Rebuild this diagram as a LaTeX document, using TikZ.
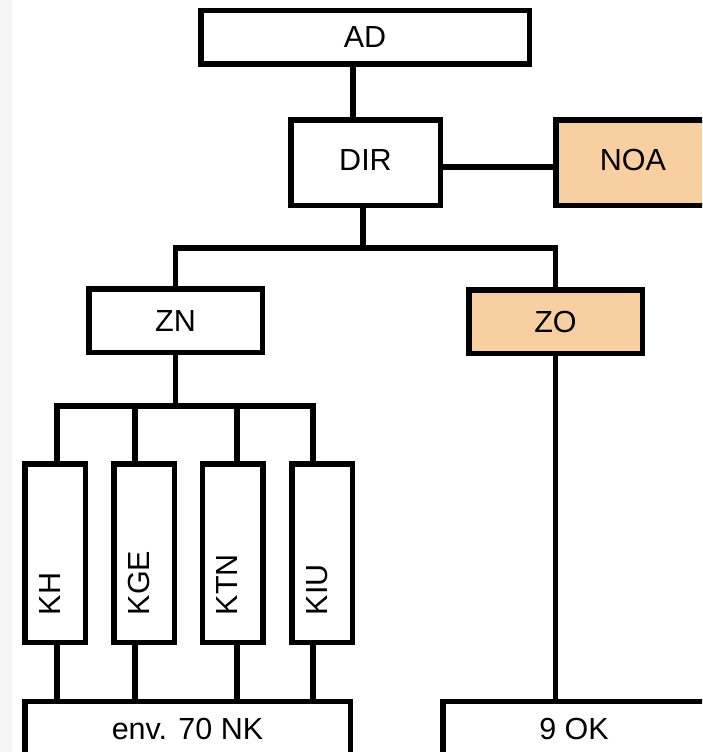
\documentclass[tikz,border=0pt]{standalone}
\usepackage{fontspec}
\setmainfont{Liberation Sans}
\usetikzlibrary{calc}
\definecolor{peach}{RGB}{247,207,161}
\definecolor{strip}{RGB}{245,245,245}
\tikzset{
  box/.style={draw=black, line width=5.5pt, fill=white, inner sep=0pt,
    font=\fontsize{30.5}{36}\selectfont, text height=22pt, text depth=0pt},
  peachbox/.style={box, fill=peach},
  raised/.style={text depth=7pt},
  kbox/.style={draw=black, line width=5.5pt, fill=white, rotate=90,
    minimum width=178.5pt, minimum height=60.5pt, inner xsep=27pt, inner ysep=0pt,
    text width=124.5pt, align=left,
    font=\fontsize{30.5}{36}\selectfont, text height=22pt, text depth=12pt},
  link/.style={draw=black, line width=5.5pt}
}
\begin{document}
\begin{tikzpicture}[x=1pt, y=-1pt]
\useasboundingbox (0,0) rectangle (702,752);
\clip (0,0) rectangle (702,752);
\fill[white] (0,0) rectangle (702,752);
\fill[strip] (0,0) rectangle (12,752);

\node[box, minimum width=328.5pt, minimum height=53.5pt, text depth=2pt] (AD) at (365,37.5) {AD};
\node[box, raised, minimum width=149.5pt, minimum height=85.5pt] (DIR) at (365.5,162.5) {DIR};
\node[peachbox, raised, minimum width=154.5pt, minimum height=85.5pt] (NOA) at (633,162.5) {NOA};
\node[box, minimum width=173.5pt, minimum height=63.5pt] (ZN) at (175.5,320.5) {ZN};
\node[peachbox, minimum width=173.5pt, minimum height=63.5pt] (ZO) at (555.5,321.5) {ZO};

\node[kbox] (KH)  at (55,553)  {KH};
\node[kbox] (KGE) at (144,553) {KGE};
\node[kbox] (KTN) at (232.5,553) {KTN};
\node[kbox] (KIU) at (322,553) {KIU};

\node[box, minimum width=325.5pt, minimum height=54pt] (env) at (187.5,728.5) {env. 70 NK};
\node[box, minimum width=262.5pt, minimum height=54pt] (OK) at (574,728.5) {9 OK};

% connectors
\draw[link] ([xshift=-12pt]AD.south) -- ([xshift=-12pt]AD.south |- DIR.north);
\draw[link] ([yshift=-4.5pt]DIR.east) -- ([yshift=-4.5pt]DIR.east -| NOA.west);
\draw[link] ([xshift=-2.5pt]DIR.south) -- ++(0,40) coordinate (br);
\draw[link] (ZN.north) |- (br) -| (ZO.north);

\draw[link] (ZN.south) -- ++(0,51) coordinate (zb);
\draw[link] ([xshift=2pt]KH.east) |- (zb) -| ([xshift=-9pt]KIU.east);
\draw[link] ([xshift=-9pt]KGE.east) -- ([xshift=-9pt]KGE.east |- zb);
\draw[link] ([xshift=4.5pt]KTN.east) -- ([xshift=4.5pt]KTN.east |- zb);

\draw[link] ([xshift=2pt]KH.west) -- ([xshift=2pt]KH.west |- env.north);
\draw[link] ([xshift=-9pt]KGE.west) -- ([xshift=-9pt]KGE.west |- env.north);
\draw[link] ([xshift=4.5pt]KTN.west) -- ([xshift=4.5pt]KTN.west |- env.north);
\draw[link] ([xshift=-9pt]KIU.west) -- ([xshift=-9pt]KIU.west |- env.north);

\draw[link] (ZO.south) -- (ZO.south |- OK.north);
\end{tikzpicture}
\end{document}
